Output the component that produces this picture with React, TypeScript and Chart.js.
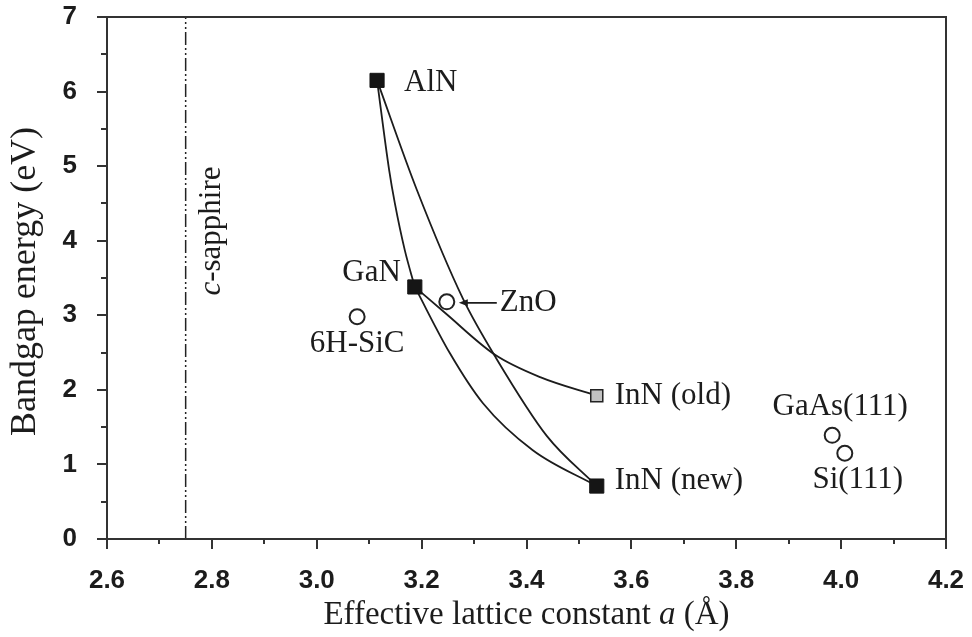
import React, { useEffect, useRef } from 'react';
import { Chart, registerables } from 'chart.js';

Chart.register(...registerables);

// ---- axis ranges and ticks ----
const xMin = 2.6;
const xMax = 4.2;
const xStep = 0.2;
const xMinorStep = 0.1;
const yMin = 0;
const yMax = 7;
const yStep = 1;
const yMinorStep = 0.5;

// ---- nitride end points (filled squares) ----
const nitrideNames = ['AlN', 'GaN', 'InN (new)'];
const nitrideA = [3.115, 3.187, 3.534];
const nitrideE = [6.15, 3.38, 0.71];

// ---- old InN value (grey square) ----
const oldInNNames = ['InN (old)'];
const oldInNA = [3.534];
const oldInNE = [1.92];

// ---- substrates (open circles) ----
const substrateNames = ['ZnO', '6H-SiC', 'GaAs(111)', 'Si(111)'];
const substrateA = [3.248, 3.077, 3.983, 4.007];
const substrateE = [3.18, 2.98, 1.39, 1.15];

// ---- c-sapphire reference line ----
const sapphireA = 2.75;

// ---- alloy curves ----
const alnGanA = [3.115, 3.138, 3.149, 3.168, 3.187];
const alnGanE = [6.15, 4.95, 4.5, 3.87, 3.38];
const alnInnNewA = [3.115, 3.191, 3.279, 3.34, 3.439, 3.534];
const alnInnNewE = [6.15, 4.68, 3.22, 2.45, 1.38, 0.71];
const ganInnOldA = [3.187, 3.245, 3.34, 3.426, 3.534];
const ganInnOldE = [3.38, 3.03, 2.47, 2.17, 1.92];
const ganInnNewA = [3.187, 3.254, 3.317, 3.412, 3.534];
const ganInnNewE = [3.38, 2.49, 1.82, 1.19, 0.71];

const AXIS = '#333333';
const INK = '#1c1c1c';
const SERIF = "'Liberation Serif', 'Times New Roman', serif";
const SANS = "'Liberation Sans', Arial, sans-serif";

const pts = (a: number[], e: number[]) => a.map((v, i) => ({ x: v, y: e[i] }));

const labelPlacement: Record<string, { dx: number; dy: number; align: CanvasTextAlign }> = {
  'AlN': { dx: 27, dy: 2, align: 'left' },
  'GaN': { dx: -14, dy: -14, align: 'right' },
  'InN (new)': { dx: 18, dy: -5, align: 'left' },
  'InN (old)': { dx: 18, dy: 0, align: 'left' },
  'ZnO': { dx: 53, dy: 1, align: 'left' },
  '6H-SiC': { dx: 0, dy: 27, align: 'center' },
  'GaAs(111)': { dx: 8, dy: -28, align: 'center' },
  'Si(111)': { dx: 13, dy: 27, align: 'center' },
};

function drawMixed(ctx: CanvasRenderingContext2D, parts: { t: string; italic: boolean }[], size: number, cx: number, y: number) {
  const fontOf = (it: boolean) => `${it ? 'italic ' : ''}${size}px ${SERIF}`;
  let total = 0;
  const widths = parts.map((p) => {
    ctx.font = fontOf(p.italic);
    const w = ctx.measureText(p.t).width;
    total += w;
    return w;
  });
  let x = cx - total / 2;
  ctx.textAlign = 'left';
  parts.forEach((p, i) => {
    ctx.font = fontOf(p.italic);
    ctx.fillText(p.t, x, y);
    x += widths[i];
  });
}

const decorPlugin = {
  id: 'decor',
  afterDatasetsDraw(chart: any) {
    const { ctx, chartArea: a, scales } = chart;
    const xs = scales.x;
    const ys = scales.y;
    ctx.save();

    // frame
    ctx.strokeStyle = AXIS;
    ctx.lineWidth = 2;
    ctx.strokeRect(a.left, a.top, a.right - a.left, a.bottom - a.top);

    // x ticks (major + minor), outward
    const nX = Math.round((xMax - xMin) / xMinorStep);
    ctx.beginPath();
    for (let i = 0; i <= nX; i++) {
      const px = Math.round(xs.getPixelForValue(xMin + i * xMinorStep));
      const len = i % 2 === 0 ? 10 : 5;
      ctx.moveTo(px, a.bottom);
      ctx.lineTo(px, a.bottom + len);
    }
    // y ticks
    const nY = Math.round((yMax - yMin) / yMinorStep);
    for (let i = 0; i <= nY; i++) {
      const py = Math.round(ys.getPixelForValue(yMin + i * yMinorStep));
      const len = i % 2 === 0 ? 10 : 6;
      ctx.moveTo(a.left, py);
      ctx.lineTo(a.left - len, py);
    }
    ctx.stroke();

    // point labels
    ctx.fillStyle = INK;
    ctx.font = `31px ${SERIF}`;
    ctx.textBaseline = 'middle';
    const drawSet = (names: string[], A: number[], E: number[]) => {
      names.forEach((n, i) => {
        const p = labelPlacement[n];
        const px = xs.getPixelForValue(A[i]);
        const py = ys.getPixelForValue(E[i]);
        ctx.textAlign = p.align;
        ctx.fillText(n, px + p.dx, py + p.dy);
      });
    };
    drawSet(nitrideNames, nitrideA, nitrideE);
    drawSet(oldInNNames, oldInNA, oldInNE);
    drawSet(substrateNames, substrateA, substrateE);

    // ZnO arrow
    const zi = substrateNames.indexOf('ZnO');
    const zx = xs.getPixelForValue(substrateA[zi]);
    const zy = ys.getPixelForValue(substrateE[zi]) + 1;
    ctx.strokeStyle = INK;
    ctx.lineWidth = 1.6;
    ctx.beginPath();
    ctx.moveTo(zx + 50, zy);
    ctx.lineTo(zx + 17, zy);
    ctx.stroke();
    ctx.beginPath();
    ctx.moveTo(zx + 12, zy);
    ctx.lineTo(zx + 21, zy - 3.5);
    ctx.lineTo(zx + 21, zy + 3.5);
    ctx.closePath();
    ctx.fill();

    // c-sapphire label (rotated)
    ctx.save();
    ctx.translate(xs.getPixelForValue(sapphireA) + 26, ys.getPixelForValue(4.13));
    ctx.rotate(-Math.PI / 2);
    ctx.textBaseline = 'middle';
    drawMixed(ctx, [{ t: 'c', italic: true }, { t: '-sapphire', italic: false }], 31, 0, 0);
    ctx.restore();

    // y axis title
    ctx.save();
    ctx.translate(26, (a.top + a.bottom) / 2 + 3.5);
    ctx.rotate(-Math.PI / 2);
    ctx.textBaseline = 'middle';
    ctx.textAlign = 'center';
    ctx.font = `36px ${SERIF}`;
    ctx.fillText('Bandgap energy (eV)', 0, 0);
    ctx.restore();

    // x axis title
    ctx.textBaseline = 'alphabetic';
    drawMixed(
      ctx,
      [
        { t: 'Effective lattice constant ', italic: false },
        { t: 'a', italic: true },
        { t: ' (Å)', italic: false },
      ],
      33,
      (a.left + a.right) / 2,
      624
    );

    ctx.restore();
  },
};

const clearPad = (s: any) => {
  s.paddingTop = 0;
  s.paddingBottom = 0;
  s.paddingLeft = 0;
  s.paddingRight = 0;
};

export default function App() {
  const ref = useRef<HTMLCanvasElement | null>(null);

  useEffect(() => {
    if (!ref.current) return;
    const curve = (a: number[], e: number[]) => ({
      data: pts(a, e),
      showLine: true,
      pointRadius: 0,
      borderColor: INK,
      borderWidth: 1.8,
      cubicInterpolationMode: 'monotone' as const,
      fill: false,
    });
    const chart = new Chart(ref.current, {
      type: 'line',
      data: {
        datasets: [
          {
            data: pts(nitrideA, nitrideE),
            showLine: false,
            pointStyle: 'rect',
            pointRadius: 10,
            backgroundColor: '#151515',
            borderColor: '#151515',
            borderWidth: 1,
          },
          {
            data: pts(oldInNA, oldInNE),
            showLine: false,
            pointStyle: 'rect',
            pointRadius: 8.5,
            backgroundColor: '#c2c2c2',
            borderColor: '#222',
            borderWidth: 1.5,
          },
          {
            data: pts(substrateA, substrateE),
            showLine: false,
            pointStyle: 'circle',
            pointRadius: 7.5,
            backgroundColor: '#ffffff',
            borderColor: '#222',
            borderWidth: 2,
          },
          curve(alnGanA, alnGanE),
          curve(alnInnNewA, alnInnNewE),
          curve(ganInnOldA, ganInnOldE),
          curve(ganInnNewA, ganInnNewE),
          {
            data: [
              { x: sapphireA, y: yMin },
              { x: sapphireA, y: yMax },
            ],
            showLine: true,
            pointRadius: 0,
            borderColor: '#222',
            borderWidth: 1.5,
            borderDash: [13, 3, 2, 3, 2, 3],
            fill: false,
          },
        ] as any,
      },
      options: {
        responsive: false,
        animation: false,
        events: [],
        layout: { padding: { left: 0, top: 17, right: 26, bottom: 0 } },
        plugins: { legend: { display: false }, tooltip: { enabled: false } },
        scales: {
          x: {
            type: 'linear',
            min: xMin,
            max: xMax,
            grid: { display: false },
            border: { display: false },
            ticks: {
              stepSize: xStep,
              padding: 18,
              color: INK,
              maxRotation: 0,
              autoSkip: false,
              font: { family: SANS, size: 26, weight: 'bold' },
              callback: (v: any) => Number(v).toFixed(1),
            },
            afterFit: (s: any) => {
              s.height = 98;
              clearPad(s);
            },
          },
          y: {
            type: 'linear',
            min: yMin,
            max: yMax,
            grid: { display: false },
            border: { display: false },
            ticks: {
              stepSize: yStep,
              padding: 22,
              color: INK,
              font: { family: SANS, size: 26, weight: 'bold' },
              callback: (v: any) => String(Math.round(Number(v))),
            },
            afterFit: (s: any) => {
              s.width = 107;
              clearPad(s);
            },
          },
        },
      } as any,
      plugins: [decorPlugin],
    });
    return () => chart.destroy();
  }, []);

  return (
    <div style={{ position: 'absolute', left: 0, top: 0, width: 972, height: 637, background: '#fff' }}>
      <canvas ref={ref} width={972} height={637} />
    </div>
  );
}
